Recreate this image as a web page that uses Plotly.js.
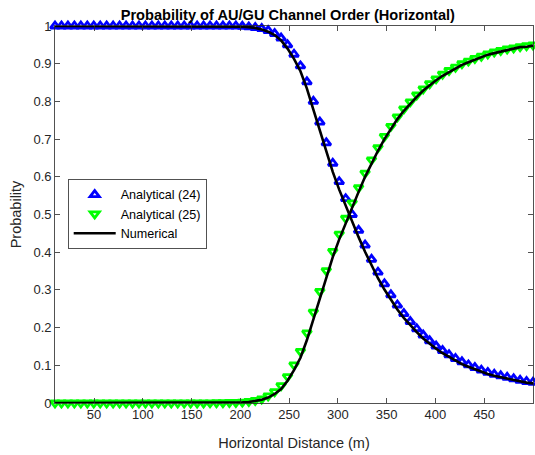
<!DOCTYPE html>
<html>
<head>
<meta charset="utf-8">
<script src="https://cdn.plot.ly/plotly-3.0.1.min.js"></script>
<style>html,body{margin:0;padding:0;background:#fff;}#chart{width:535px;height:455px;}</style>
</head>
<body>
<div id="chart"></div>
<script>
// Horizontal distance (m)
const distance = [10,16.62,23.24,29.86,36.49,43.11,49.73,56.35,62.97,69.59,76.22,82.84,89.46,96.08,102.70,109.32,115.95,122.57,129.19,135.81,142.43,149.05,155.68,162.30,168.92,175.54,182.16,188.78,195.41,202.03,208.65,215.27,221.89,228.51,235.14,241.76,248.38,255.00,261.62,268.24,274.86,281.49,288.11,294.73,301.35,307.97,314.59,321.22,327.84,334.46,341.08,347.70,354.32,360.95,367.57,374.19,380.81,387.43,394.05,400.68,407.30,413.92,420.54,427.16,433.78,440.41,447.03,453.65,460.27,466.89,473.51,480.14,486.76,493.38,500.00];

// Analytical (24)
const analytical24 = [1,1,1,1,1,1,1,1,1,1,1,1,1,1,1,1,1,1,1,1,1,1,1,1,1,1,1,1,1,0.999,0.9975,0.996,0.993,0.988,0.980,0.968,0.950,0.925,0.894,0.852,0.800,0.745,0.690,0.636,0.587,0.542,0.500,0.458,0.419,0.381,0.347,0.316,0.287,0.260,0.237,0.216,0.197,0.180,0.165,0.151,0.139,0.128,0.118,0.109,0.101,0.094,0.087,0.081,0.076,0.072,0.068,0.064,0.060,0.057,0.055];

// Analytical (25)
const analytical25 = [0,0,0,0,0,0,0,0,0,0,0,0,0,0,0,0,0,0,0,0,0,0,0.0003,0.0004,0.0005,0.0007,0.001,0.0013,0.0017,0.0025,0.004,0.007,0.011,0.019,0.030,0.046,0.070,0.101,0.137,0.186,0.241,0.296,0.351,0.402,0.448,0.490,0.531,0.571,0.610,0.645,0.677,0.707,0.734,0.759,0.780,0.799,0.817,0.833,0.847,0.860,0.872,0.882,0.891,0.900,0.907,0.914,0.920,0.926,0.931,0.935,0.939,0.942,0.945,0.948,0.950];

// Numerical (order 24)
const numerical24 = [1,1,1,1,1,1,1,1,1,1,1,1,1,1,1,1,1,1,1,1,1,1,1,1,1,0.9995,0.9993,0.999,0.9988,0.998,0.997,0.995,0.991,0.985,0.976,0.962,0.940,0.913,0.880,0.834,0.778,0.722,0.667,0.613,0.566,0.523,0.481,0.440,0.401,0.364,0.331,0.301,0.274,0.248,0.226,0.206,0.188,0.171,0.157,0.144,0.132,0.122,0.112,0.103,0.096,0.089,0.083,0.077,0.072,0.068,0.064,0.060,0.057,0.054,0.052];

// Numerical (order 25)
const numerical25 = [0,0,0,0,0,0,0,0,0,0,0,0,0,0,0,0,0,0,0,0,0,0,0.0002,0.0003,0.0004,0.0006,0.0008,0.001,0.0013,0.0018,0.0028,0.005,0.0085,0.0145,0.024,0.037,0.059,0.087,0.120,0.167,0.223,0.278,0.334,0.387,0.434,0.477,0.519,0.560,0.600,0.636,0.669,0.700,0.727,0.753,0.775,0.794,0.812,0.829,0.843,0.856,0.868,0.878,0.888,0.897,0.904,0.911,0.916,0.924,0.928,0.933,0.936,0.940,0.944,0.945,0.948];

const xTicks = [50,100,150,200,250,300,350,400,450];
const yTicks = [0,0.1,0.2,0.3,0.4,0.5,0.6,0.7,0.8,0.9,1];
const yTickText = ['0','0.1','0.2','0.3','0.4','0.5','0.6','0.7','0.8','0.9','1'];

const FONT = 'Liberation Sans, Arial, Helvetica, sans-serif';
const AX = '#262626';

const traces = [
  {x: distance, y: analytical24, type: 'scatter', mode: 'markers', name: 'Analytical (24)',
   cliponaxis: false,
   marker: {symbol: 'triangle-up-open', size: 8, color: '#0000ff', line: {width: 2.8, color: '#0000ff'}}},
  {x: distance, y: analytical25, type: 'scatter', mode: 'markers', name: 'Analytical (25)',
   cliponaxis: false,
   marker: {symbol: 'triangle-down-open', size: 8, color: '#00ff00', line: {width: 2.8, color: '#00ff00'}}},
  {x: distance, y: numerical24, type: 'scatter', mode: 'lines', name: 'Numerical',
   cliponaxis: false, line: {color: '#000000', width: 2.6}},
  {x: distance, y: numerical25, type: 'scatter', mode: 'lines', name: 'Numerical', showlegend: false,
   cliponaxis: false, line: {color: '#000000', width: 2.6}}
];

const layout = {
  width: 535, height: 455,
  margin: {l: 55, r: 2, t: 26, b: 52, pad: 0},
  paper_bgcolor: '#ffffff', plot_bgcolor: '#ffffff',
  font: {family: FONT, size: 13, color: AX},
  title: {text: '<b>Probability of AU/GU Channel Order (Horizontal)</b>',
          font: {family: FONT, size: 14.6, color: '#000000'},
          x: 0.538, xanchor: 'center', y: 0.967, yanchor: 'middle'},
  showlegend: true,
  legend: {x: 0.027, y: 0.594, xanchor: 'left', yanchor: 'top',
           bgcolor: '#ffffff', bordercolor: AX, borderwidth: 0.8,
           font: {family: FONT, size: 12.6, color: '#000000'},
           itemwidth: 42, tracegroupgap: 0},
  xaxis: {
    range: [10, 500], autorange: false,
    tickvals: xTicks, ticktext: xTicks.map(String),
    ticks: 'inside', ticklen: 5, tickwidth: 0.8, tickcolor: AX,
    showline: true, linecolor: AX, linewidth: 0.8, mirror: 'ticks',
    showgrid: false, zeroline: false,
    tickfont: {family: FONT, size: 13, color: AX},
    title: {text: 'Horizontal Distance (m)', font: {family: FONT, size: 14.5, color: AX}, standoff: 16},
    automargin: false
  },
  yaxis: {
    range: [0, 1], autorange: false,
    tickvals: yTicks, ticktext: yTickText,
    ticks: 'inside', ticklen: 5, tickwidth: 0.8, tickcolor: AX,
    showline: true, linecolor: AX, linewidth: 0.8, mirror: 'ticks',
    showgrid: false, zeroline: false,
    tickfont: {family: FONT, size: 13, color: AX},
    title: {text: 'Probability', font: {family: FONT, size: 14.5, color: AX}, standoff: 8},
    automargin: false
  }
};

Plotly.newPlot('chart', traces, layout, {staticPlot: true, displayModeBar: false});
</script>
</body>
</html>
